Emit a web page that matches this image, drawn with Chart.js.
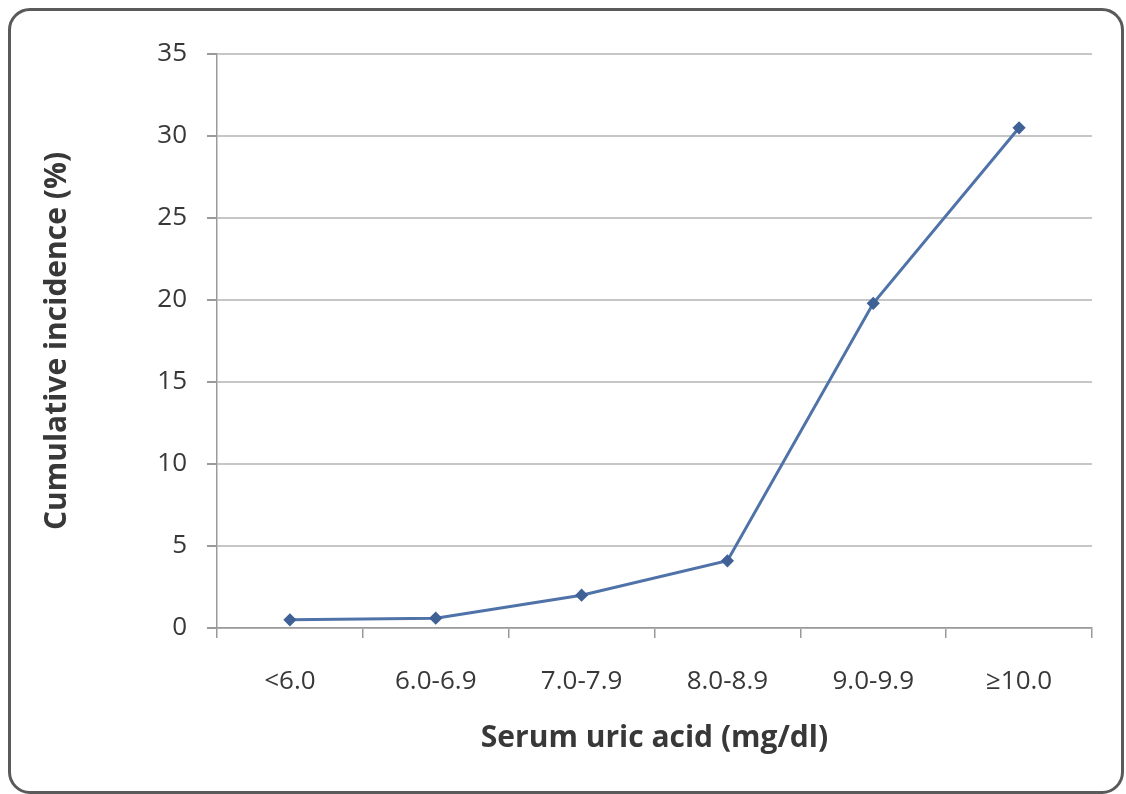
<!DOCTYPE html>
<html>
<head>
<meta charset="utf-8">
<script src="https://cdn.jsdelivr.net/npm/chart.js@4.4.0/dist/chart.umd.min.js"></script>
<style>
  html, body { margin: 0; padding: 0; background: #fff; }
  #wrap { position: relative; width: 1126px; height: 794px; }
  #frame {
    position: absolute; left: 8px; top: 8px; width: 1110px; height: 780px;
    border: 3px solid #5a5a5a; border-radius: 22px; pointer-events: none;
  }
</style>
</head>
<body>
<div id="wrap">
  <canvas id="chart" width="1126" height="794"></canvas>
  <div id="frame"></div>
</div>
<script>
const categories = ["<6.0", "6.0-6.9", "7.0-7.9", "8.0-8.9", "9.0-9.9", "\u226510.0"];
const incidence = [0.5, 0.6, 2.0, 4.1, 19.8, 30.5];
const yTicks = [0, 5, 10, 15, 20, 25, 30, 35];

const textColor = "#383838";
const gridColor = "#c6c6c6";
const fontFamily = "'Open Sans', 'Noto Sans', sans-serif";

new Chart(document.getElementById("chart"), {
  type: "line",
  data: {
    labels: categories,
    datasets: [{
      data: incidence,
      borderColor: "#4f73a8",
      borderWidth: 3,
      pointStyle: "rectRot",
      pointRadius: 4.5,
      pointBackgroundColor: "#3f6196",
      pointBorderColor: "#3f6196",
      tension: 0,
    }],
  },
  options: {
    responsive: false,
    animation: false,
    layout: { padding: { top: 54, right: 34, left: 0, bottom: 0 } },
    plugins: { legend: { display: false }, tooltip: { enabled: false } },
    scales: {
      x: {
        offset: true,
        afterFit: (s) => { s.height = 166; },
        grid: { display: true, drawOnChartArea: false, offset: true, tickLength: 10, color: "#9a9a9a", lineWidth: 1.5 },
        border: { display: true, color: "#9a9a9a", width: 1.5 },
        ticks: { color: textColor, font: { family: fontFamily, size: 26 }, padding: 28, maxRotation: 0 },
        title: {
          display: true, text: "Serum uric acid (mg/dl)", color: textColor,
          font: { family: fontFamily, size: 30, weight: "bold" },
          padding: { top: 0, bottom: 38 },
        },
      },
      y: {
        min: 0, max: 35,
        afterFit: (s) => { s.width = 217; },
        afterBuildTicks: (s) => { s.ticks = yTicks.map(v => ({ value: v })); },
        grid: { color: gridColor, lineWidth: 2, tickLength: 10, tickColor: "#9a9a9a" },
        border: { display: true, color: "#9a9a9a", width: 1.5 },
        ticks: { color: textColor, font: { family: fontFamily, size: 26 }, padding: 20 },
        title: {
          display: true, text: "Cumulative incidence (%)", color: textColor,
          font: { family: fontFamily, size: 30, weight: "bold" },
          padding: { top: 39, bottom: 0 },
        },
      },
    },
  },
});
</script>
</body>
</html>
